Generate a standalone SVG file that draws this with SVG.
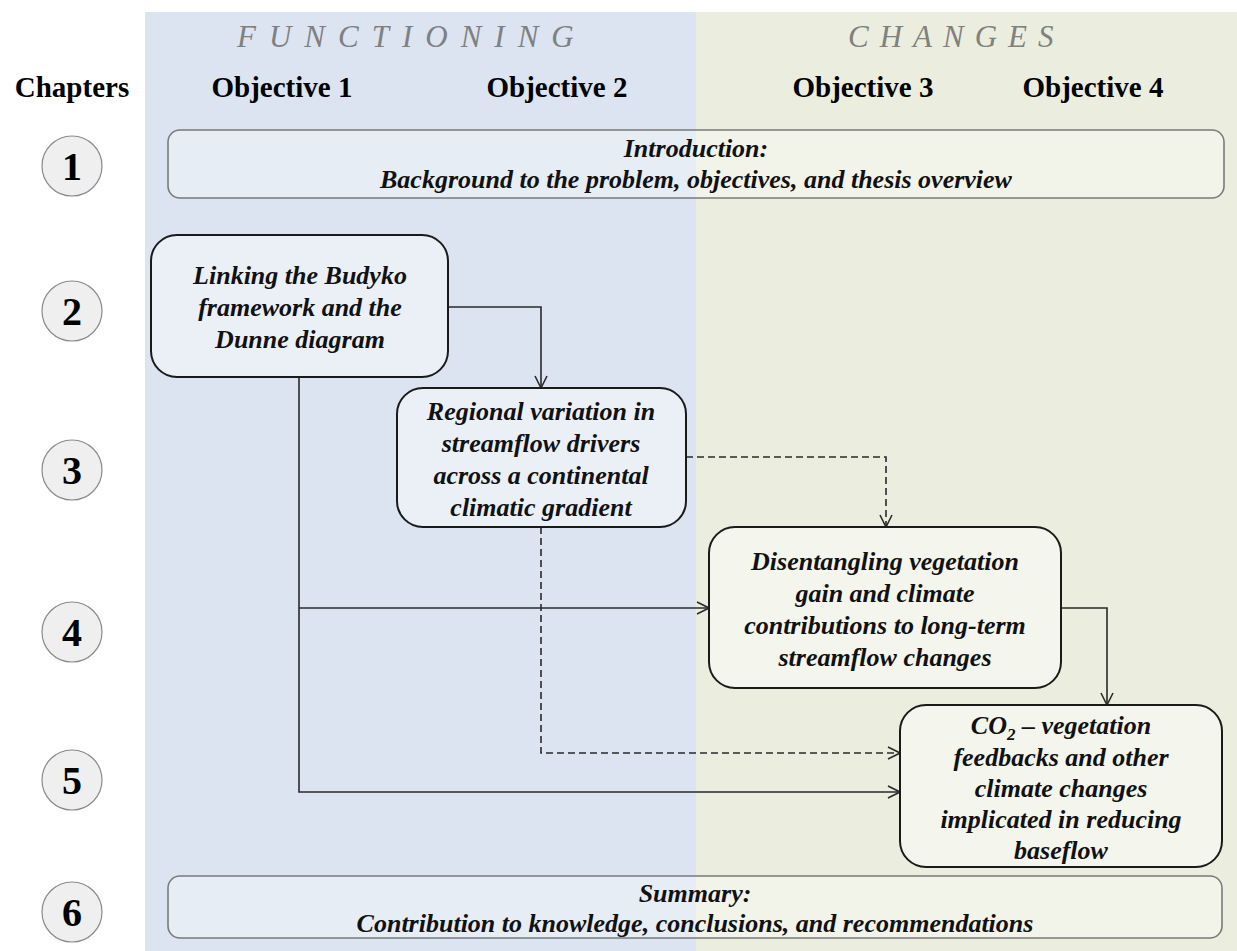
<svg xmlns="http://www.w3.org/2000/svg" width="1237" height="951" viewBox="0 0 1237 951">
<defs>
<style>
.hdr{font-family:"Liberation Serif","Times New Roman",serif;font-weight:bold;font-size:29px;fill:#000;text-anchor:middle}
.band{font-family:"Liberation Serif","Times New Roman",serif;font-style:italic;font-size:31px;fill:#808080;letter-spacing:13px}
.num{font-family:"Liberation Serif","Times New Roman",serif;font-weight:bold;font-size:40px;fill:#000;text-anchor:middle}
.t{font-family:"Liberation Serif","Times New Roman",serif;font-weight:bold;font-style:italic;font-size:26px;fill:#111;text-anchor:middle}
.circ{fill:#efefef;stroke:#8a8a8a;stroke-width:1.2}
.box{fill:#ffffff;fill-opacity:0.45;stroke:#1a1a1a;stroke-width:2}
.wide{fill:#ffffff;fill-opacity:0.35;stroke:#7a7a7a;stroke-width:1.6}
.ln{fill:none;stroke:#2a2a2a;stroke-width:1.6}
.dash{fill:none;stroke:#2a2a2a;stroke-width:1.6;stroke-dasharray:7 4}
</style>
<marker id="arr" viewBox="0 0 14 14" refX="13" refY="7" markerWidth="14" markerHeight="14" markerUnits="userSpaceOnUse" orient="auto">
<path d="M1,1 L13,7 L1,13" fill="none" stroke="#2a2a2a" stroke-width="1.6"/>
</marker>
</defs>

<rect x="0" y="0" width="1237" height="951" fill="#ffffff"/>
<rect x="145" y="12" width="551" height="939" fill="#dbe4f0"/>
<rect x="696" y="12" width="541" height="939" fill="#ebeedf"/>

<g id="headers">
<text class="band" x="237" y="47">FUNCTIONING</text>
<text class="band" x="848" y="47" style="letter-spacing:11px">CHANGES</text>
<text class="hdr" x="72" y="97">Chapters</text>
<text class="hdr" x="282" y="97">Objective 1</text>
<text class="hdr" x="557" y="97">Objective 2</text>
<text class="hdr" x="863" y="97">Objective 3</text>
<text class="hdr" x="1093" y="97">Objective 4</text>
</g>

<g id="chapters">
<circle class="circ" cx="72" cy="166" r="30"/><text class="num" x="72" y="180">1</text>
<circle class="circ" cx="72" cy="311" r="30"/><text class="num" x="72" y="325">2</text>
<circle class="circ" cx="72" cy="470" r="30"/><text class="num" x="72" y="484">3</text>
<circle class="circ" cx="72" cy="632" r="30"/><text class="num" x="72" y="646">4</text>
<circle class="circ" cx="72" cy="780" r="30"/><text class="num" x="72" y="794">5</text>
<circle class="circ" cx="72" cy="912" r="30"/><text class="num" x="72" y="926">6</text>
</g>

<g id="connectors">
<polyline class="ln" points="448,307 541,307 541,388" marker-end="url(#arr)"/>
<polyline class="ln" points="299,377 299,792 900,792" marker-end="url(#arr)"/>
<polyline class="ln" points="299,608 709,608" marker-end="url(#arr)"/>
<polyline class="dash" points="686,457 886,457 886,527" marker-end="url(#arr)"/>
<polyline class="dash" points="541,527 541,753 900,753" marker-end="url(#arr)"/>
<polyline class="ln" points="1061,608 1107,608 1107,705" marker-end="url(#arr)"/>
</g>

<g id="intro">
<rect class="wide" x="168" y="130" width="1056" height="68" rx="12"/>
<text class="t" x="696" y="157">Introduction:</text>
<text class="t" x="696" y="188">Background to the problem, objectives, and thesis overview</text>
</g>

<g id="linking">
<rect class="box" x="151" y="235" width="297" height="142" rx="26"/>
<text class="t" x="300" y="284">Linking the Budyko</text>
<text class="t" x="300" y="316">framework and the</text>
<text class="t" x="300" y="348">Dunne diagram</text>
</g>

<g id="regional">
<rect class="box" x="397" y="388" width="289" height="139" rx="26"/>
<text class="t" x="541" y="420">Regional variation in</text>
<text class="t" x="541" y="452">streamflow drivers</text>
<text class="t" x="541" y="484">across a continental</text>
<text class="t" x="541" y="516">climatic gradient</text>
</g>

<g id="disentangling">
<rect class="box" x="709" y="527" width="352" height="161" rx="26"/>
<text class="t" x="885" y="570">Disentangling vegetation</text>
<text class="t" x="885" y="602">gain and climate</text>
<text class="t" x="885" y="634">contributions to long-term</text>
<text class="t" x="885" y="666">streamflow changes</text>
</g>

<g id="co2">
<rect class="box" x="900" y="705" width="322" height="162" rx="26"/>
<text class="t" x="1061" y="734">CO<tspan font-size="17" dy="6">2</tspan><tspan dy="-6"> – vegetation</tspan></text>
<text class="t" x="1061" y="766">feedbacks and other</text>
<text class="t" x="1061" y="797">climate changes</text>
<text class="t" x="1061" y="828">implicated in reducing</text>
<text class="t" x="1061" y="859">baseflow</text>
</g>

<g id="summary">
<rect class="wide" x="168" y="876" width="1054" height="62" rx="12"/>
<text class="t" x="695" y="902">Summary:</text>
<text class="t" x="695" y="932">Contribution to knowledge, conclusions, and recommendations</text>
</g>
</svg>
